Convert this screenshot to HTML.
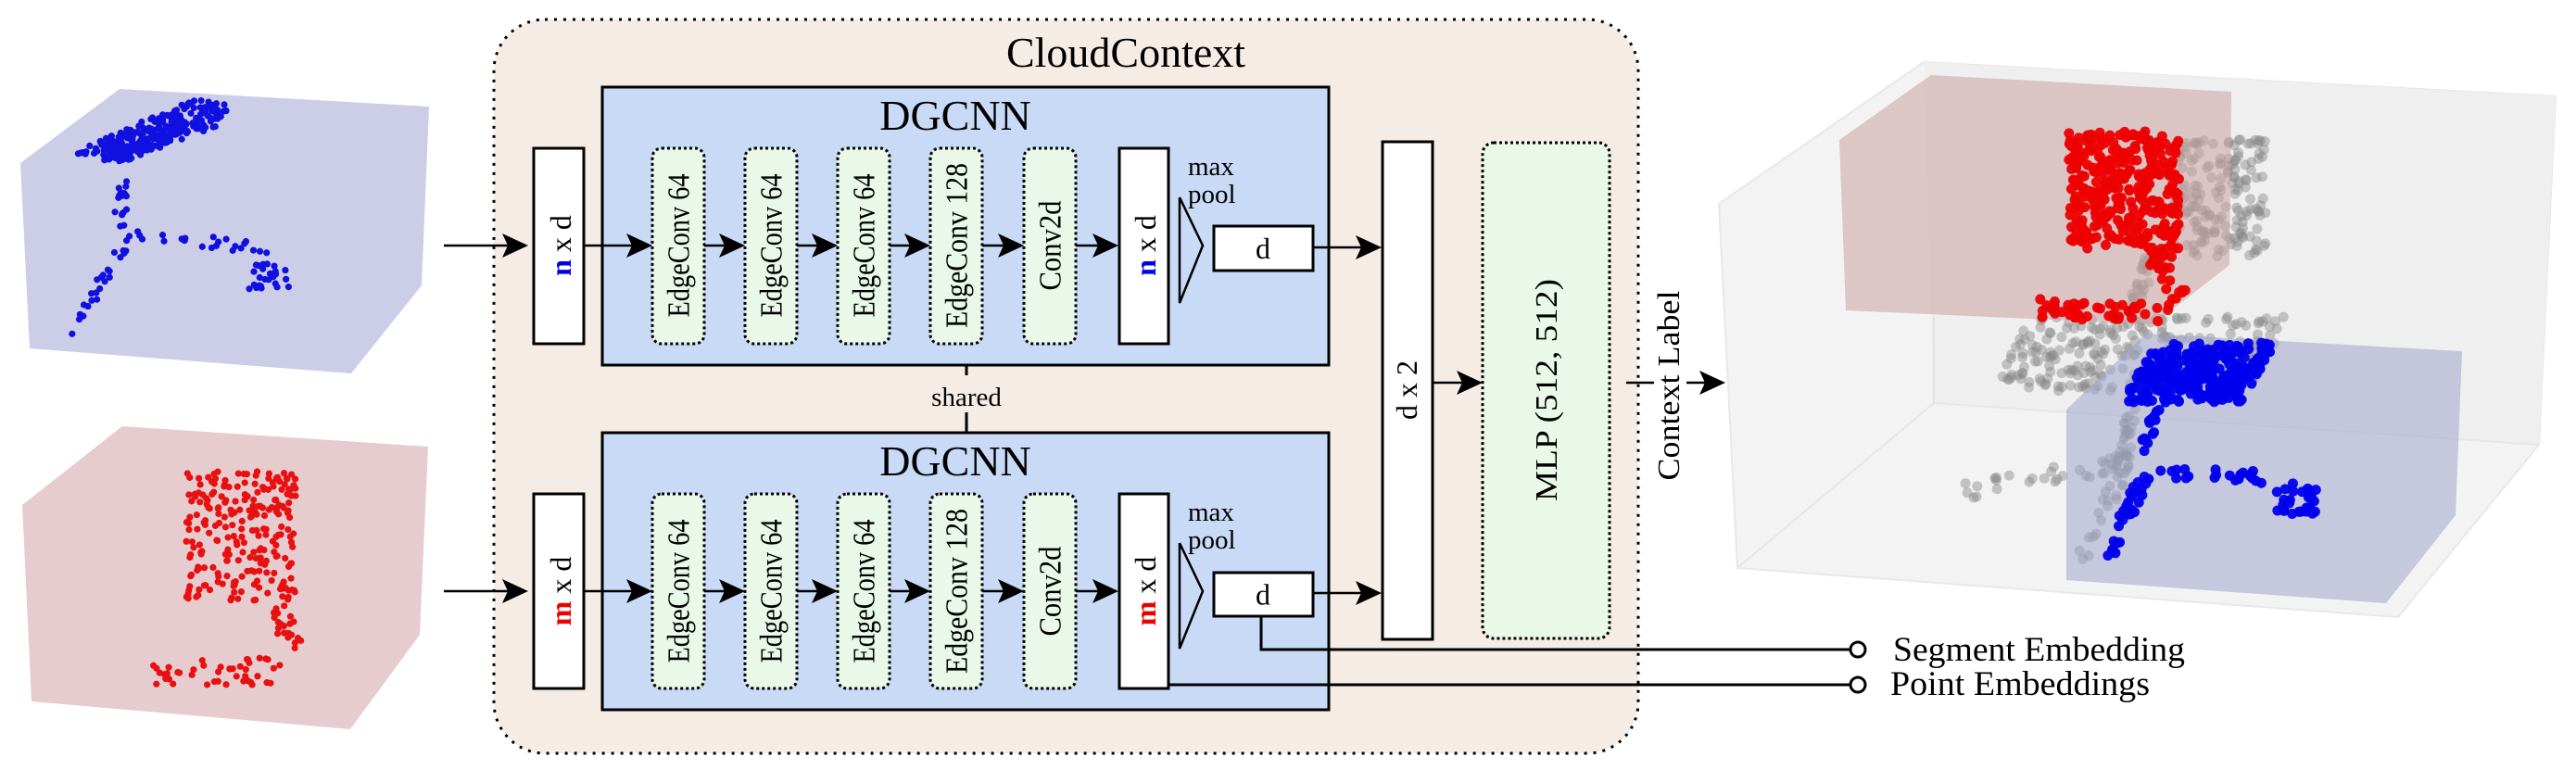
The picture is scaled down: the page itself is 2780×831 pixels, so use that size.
<!DOCTYPE html>
<html><head><meta charset="utf-8"><style>
html,body{margin:0;padding:0;background:#fff;}
svg{display:block;font-family:"Liberation Serif","DejaVu Serif",serif;}
svg text{font-family:"Liberation Serif","DejaVu Serif",serif;fill:#000;}
</style></head><body>
<svg id="s" width="2780" height="831" viewBox="0 0 2780 831" xmlns="http://www.w3.org/2000/svg" font-family="Liberation Serif, serif">
<!-- left cubes -->
<polygon points="129,96 463,115 455,308 379,403 32,376 22,176" fill="#cccde6"/>
<polygon points="132,460 462,482 453,685 378,787 34,757 24,545" fill="#e6ccce"/>
<g id="leftdots"></g>

<!-- CloudContext -->
<rect x="533" y="21" width="1235" height="792" rx="55" ry="55" fill="#f5ece6" stroke="#000" stroke-width="3" stroke-dasharray="3,7"/>
<text x="1215" y="72" font-size="46" text-anchor="middle" font-family="Liberation Serif, serif">CloudContext</text>

<!-- DGCNN boxes -->
<rect x="650" y="94" width="784" height="300" fill="#c8daf5" stroke="#000" stroke-width="3"/>
<rect x="650" y="467" width="784" height="299" fill="#c8daf5" stroke="#000" stroke-width="3"/>
<text x="1031" y="140" font-size="46" text-anchor="middle" font-family="Liberation Serif, serif">DGCNN</text>
<text x="1031" y="513" font-size="46" text-anchor="middle" font-family="Liberation Serif, serif">DGCNN</text>
<line x1="1043" y1="394" x2="1043" y2="405" stroke="#000" stroke-width="3"/>
<line x1="1043" y1="445" x2="1043" y2="467" stroke="#000" stroke-width="3"/>
<text x="1043" y="438" font-size="29" text-anchor="middle" font-family="Liberation Serif, serif">shared</text>

<g id="rows" font-family="Liberation Serif, serif"></g>

<!-- dx2 and MLP -->
<rect x="1492" y="153" width="54" height="537" fill="#fff" stroke="#000" stroke-width="3"/>
<text transform="translate(1529,421) rotate(-90)" font-size="32" text-anchor="middle" font-family="Liberation Serif, serif">d x 2</text>
<rect x="1600" y="154" width="137" height="535" rx="12" fill="#e9f8e8" stroke="#000" stroke-width="3" stroke-dasharray="3,3"/>
<text transform="translate(1680,421) rotate(-90)" font-size="34" text-anchor="middle" textLength="240" lengthAdjust="spacingAndGlyphs" font-family="Liberation Serif, serif">MLP (512, 512)</text>
<line x1="1546" y1="413" x2="1578" y2="413" stroke="#000" stroke-width="2.5"/>
<polygon points="1600,413 1572,400 1578,413 1572,426" fill="#000"/>
<line x1="1755" y1="413" x2="1785" y2="413" stroke="#000" stroke-width="2.5"/>
<text transform="translate(1812,416) rotate(-90)" font-size="34" text-anchor="middle" textLength="205" lengthAdjust="spacingAndGlyphs" font-family="Liberation Serif, serif">Context Label</text>
<line x1="1820" y1="413" x2="1842" y2="413" stroke="#000" stroke-width="2.5"/>
<polygon points="1862,413 1834,400 1840,413 1834,426" fill="#000"/>

<!-- embeddings -->
<polyline points="1361,665 1361,701 1997,701" fill="none" stroke="#000" stroke-width="3"/>
<line x1="1261" y1="739" x2="1997" y2="739" stroke="#000" stroke-width="3"/>
<circle cx="2005" cy="701" r="8" fill="#fff" stroke="#000" stroke-width="3"/>
<circle cx="2005" cy="739" r="8" fill="#fff" stroke="#000" stroke-width="3"/>
<text x="2043" y="713" font-size="37" textLength="315" lengthAdjust="spacingAndGlyphs" font-family="Liberation Serif, serif">Segment Embedding</text>
<text x="2040" y="750" font-size="37" textLength="280" lengthAdjust="spacingAndGlyphs" font-family="Liberation Serif, serif">Point Embeddings</text>

<!-- right 3D -->
<polygon points="2076,67 2758,104 2740,480 2588,666 1875,613 1855,220" fill="#f3f3f3" stroke="#e8e8e8" stroke-width="2"/>
<polygon points="2076,67 2758,104 2740,480 2087,435" fill="#efefef"/>
<line x1="2087" y1="342" x2="2087" y2="435" stroke="#e2e2e2" stroke-width="2"/>
<line x1="2087" y1="435" x2="2740" y2="480" stroke="#e6e6e6" stroke-width="2"/>
<line x1="2087" y1="435" x2="1875" y2="613" stroke="#e6e6e6" stroke-width="2"/>
<g id="rdots1"></g>
<polygon points="2084,81 2408,99 2406,286 2324,350 1992,335 1985,151" fill="#c8a0a0" fill-opacity="0.55"/>
<polygon points="2316,360 2657,379 2650,556 2575,651 2230,626 2230,442" fill="#a0a4cc" fill-opacity="0.55"/>
<g id="rdots2"></g>
</svg>
<script>
(function(){
var NS="http://www.w3.org/2000/svg";
var s=1234567;function rnd(){s=(s*1103515245+12345)%2147483648;return s/2147483648;}
function el(p,tag,a){var e=document.createElementNS(NS,tag);for(var k in a)e.setAttribute(k,a[k]);p.appendChild(e);return e;}
function G(id){return document.getElementById(id);}
function par(g,n,o,u,v,col,r,op){for(var i=0;i<n;i++){var a=rnd(),b=rnd();el(g,'circle',{cx:o[0]+a*u[0]+b*v[0],cy:o[1]+a*u[1]+b*v[1],r:r,fill:col,'fill-opacity':op||1});}}
function line(g,n,p,q,w,col,r,op){for(var i=0;i<n;i++){var t=rnd();el(g,'circle',{cx:p[0]+(q[0]-p[0])*t+(rnd()-.5)*w,cy:p[1]+(q[1]-p[1])*t+(rnd()-.5)*w,r:r,fill:col,'fill-opacity':op||1});}}
var L=G('leftdots'),B='#1010e0',R='#e81010';
par(L,200,[80,165],[130,-60],[50,12],B,3.6);
par(L,80,[100,160],[110,-40],[25,18],B,3.6);
line(L,18,[138,180],[128,240],12,B,3.6);
line(L,25,[140,248],[80,355],14,B,3.6);
line(L,22,[150,255],[295,268],14,B,3.6);
par(L,25,[265,282],[50,0],[0,30],B,3.6);
par(L,240,[201,508],[118,0],[0,140],R,3.6);
line(L,22,[300,650],[318,702],22,R,3.6);
par(L,45,[165,710],[137,0],[0,30],R,3.6);
var R1=G('rdots1'),R2=G('rdots2'),Gc='#888';
par(R1,170,[2345,150],[100,0],[0,128],Gc,5.5,0.45);
par(R1,260,[2150,422],[40,-80],[280,0],Gc,5.5,0.45);
line(R1,25,[2300,440],[2290,500],14,Gc,5.5,0.45);
line(R1,30,[2121,531],[2293,500],18,Gc,5.5,0.45);
line(R1,25,[2290,505],[2247,596],18,Gc,5.5,0.45);
line(R1,20,[2320,280],[2300,340],14,Gc,5.5,0.45);
par(R2,330,[2232,142],[120,0],[0,128],'#ee0000',5.5,0.95);
line(R2,30,[2326,270],[2352,326],24,'#ee0000',5.5,0.95);
par(R2,45,[2197,322],[136,0],[0,25],'#ee0000',5.5,0.95);
par(R2,280,[2290,435],[35,-65],[130,0],'#0000ee',5.5,0.95);
line(R2,14,[2327,440],[2312,492],10,'#0000ee',5.5,0.95);
line(R2,28,[2316,508],[2274,603],14,'#0000ee',5.5,0.95);
line(R2,22,[2320,510],[2440,515],14,'#0000ee',5.5,0.95);
par(R2,28,[2455,520],[50,0],[0,35],'#0000ee',5.5,0.95);
var W=G('rows');
function arrow(x1,x2,y){el(W,'line',{x1:x1,y1:y,x2:x2-14,y2:y,stroke:'#000','stroke-width':2.5});el(W,'polygon',{points:(x2)+','+y+' '+(x2-28)+','+(y-13)+' '+(x2-22)+','+y+' '+(x2-28)+','+(y+13),fill:'#000'});}
function txt(x,y,fs,len){var t=el(W,'text',{transform:'translate('+x+','+y+') rotate(-90)','font-size':fs,'text-anchor':'middle','dominant-baseline':'central','font-family':'Liberation Serif, serif'});if(len){t.setAttribute('textLength',len);t.setAttribute('lengthAdjust','spacingAndGlyphs');}return t;}
function tsp(t,str,fill,bold){var e=document.createElementNS(NS,'tspan');if(fill)e.setAttribute('fill',fill);if(bold)e.setAttribute('font-weight','bold');e.textContent=str;t.appendChild(e);}
[[160,371,'n','#0000ee',265,244,292,213,327],[533,743,'m','#ee0000',638,618,665,586,700]].forEach(function(r){
 var y0=r[0],y1=r[1],cy=r[4];
 arrow(479,570,cy);
 el(W,'rect',{x:576,y:y0,width:54,height:y1-y0,fill:'#fff',stroke:'#000','stroke-width':3});
 var t=txt(605,cy,32);tsp(t,r[2],r[3],true);tsp(t,' x d');
 var xs=[704,804,904,1004,1105],labels=['EdgeConv 64','EdgeConv 64','EdgeConv 64','EdgeConv 128','Conv2d'],lens=[155,155,155,178,97];
 var prev=630;
 for(var i=0;i<5;i++){arrow(prev,xs[i],cy);el(W,'rect',{x:xs[i],y:y0,width:56,height:y1-y0,rx:10,fill:'#e9f8e8',stroke:'#000','stroke-width':3,'stroke-dasharray':'3,3'});var tt=txt(xs[i]+29,cy,34,lens[i]);tt.textContent=labels[i];prev=xs[i]+56;}
 arrow(prev,1207,cy);
 el(W,'rect',{x:1208,y:y0,width:53,height:y1-y0,fill:'#fff',stroke:'#000','stroke-width':3});
 var t2=txt(1236,cy,32);tsp(t2,r[2],r[3],true);tsp(t2,' x d');
 var mt=el(W,'text',{x:1282,y:y0+29,'font-size':29,'font-family':'Liberation Serif, serif'});mt.textContent='max';
 var pt=el(W,'text',{x:1282,y:y0+59,'font-size':29,'font-family':'Liberation Serif, serif'});pt.textContent='pool';
 el(W,'polyline',{points:'1273,'+r[7]+' 1298,'+cy+' 1273,'+r[8]+' 1273,'+r[7],fill:'none',stroke:'#000','stroke-width':2.5});
 el(W,'rect',{x:1310,y:r[5],width:107,height:r[6]-r[5],fill:'#fff',stroke:'#000','stroke-width':3});
 var d=el(W,'text',{x:1363,y:(r[5]+r[6])/2+11,'font-size':32,'text-anchor':'middle','font-family':'Liberation Serif, serif'});d.textContent='d';
 arrow(1417,1491,cy+2);
});
})();
</script>
</body></html>
